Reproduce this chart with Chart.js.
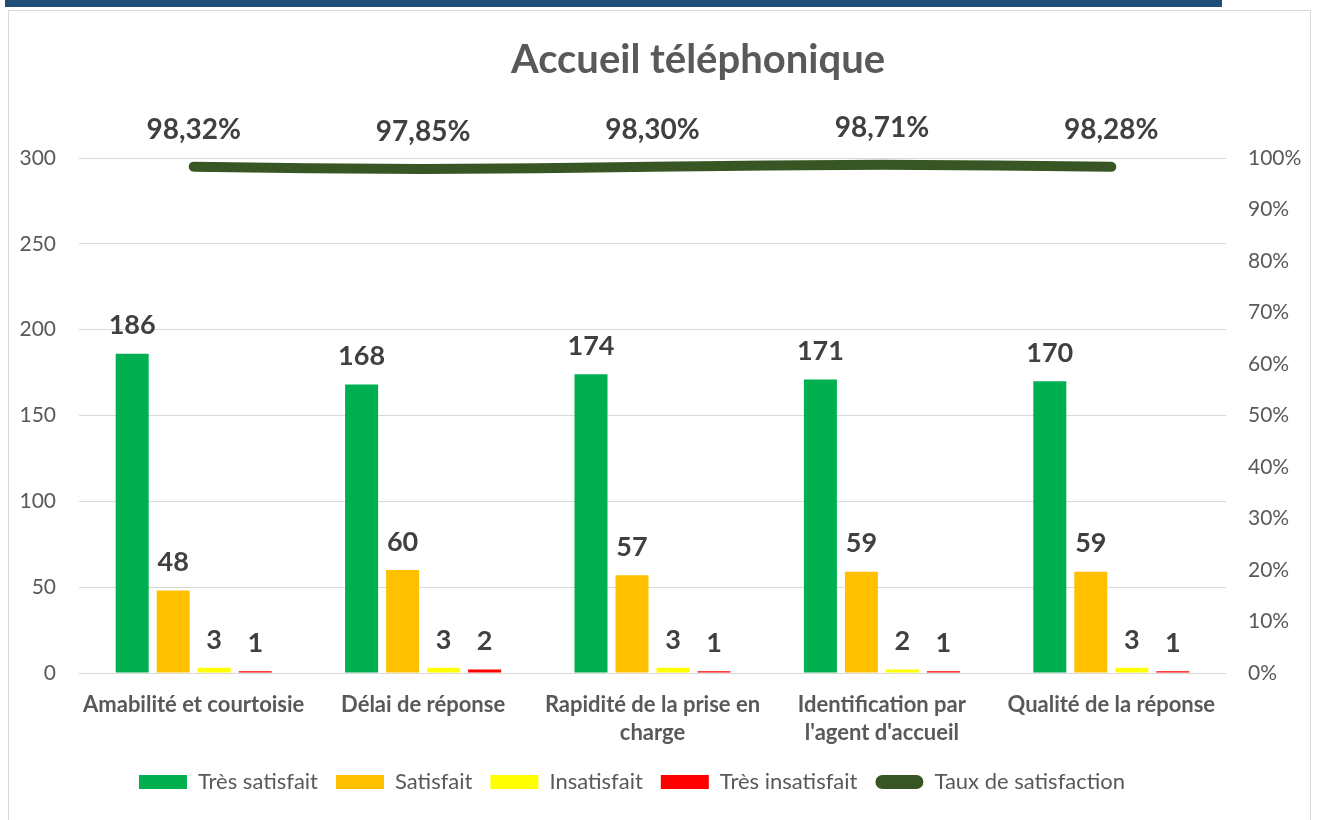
<!DOCTYPE html>
<html>
<head>
<meta charset="utf-8">
<script src="https://cdn.jsdelivr.net/npm/chart.js@4.4.1/dist/chart.umd.min.js"></script>
<style>
  body { margin: 0; background: #fff; overflow: hidden; }
  #topbar { position: absolute; left: 5px; top: 0; width: 1217px; height: 7px; background: #1f4e79; }
  #frame { position: absolute; left: 8px; top: 10px; width: 1301px; height: 820px; border: 1px solid #d9d9d9; }
  #wrap { position: absolute; left: -54px; top: 0; width: 1372px; height: 820px; }
</style>
</head>
<body>
<div id="topbar"></div>
<div id="frame"></div>
<div id="wrap"><canvas id="chart" width="1372" height="820"></canvas></div>
<script>
const categories = [
  'Amabilité et courtoisie',
  'Délai de réponse',
  ['Rapidité de la prise en', 'charge'],
  ['Identification par', "l'agent d'accueil"],
  'Qualité de la réponse'
];
const tresSatisfait = [186, 168, 174, 171, 170];
const satisfait = [48, 60, 57, 59, 59];
const insatisfait = [3, 3, 3, 2, 3];
const tresInsatisfait = [1, 2, 1, 1, 1];
const tauxSatisfaction = [0.9832, 0.9785, 0.9830, 0.9871, 0.9828];

const textGrey = '#595959';
const labelGrey = '#404040';
const font = 'Lato';
const shift = 54; // canvas sits 54px left of the page so the legend centres like the original

const pct = v => (v * 100).toFixed(2).replace('.', ',') + '%';

// draws the title and the value labels
const labelsPlugin = {
  id: 'labels',
  afterDatasetsDraw(chart) {
    const ctx = chart.ctx;
    ctx.save();
    ctx.fillStyle = labelGrey;
    ctx.textAlign = 'center';
    ctx.textBaseline = 'middle';
    chart.data.datasets.forEach((ds, i) => {
      const meta = chart.getDatasetMeta(i);
      meta.data.forEach((el, j) => {
        if (ds.type === 'line') {
          ctx.font = `bold 28px ${font}`;
          ctx.fillText(pct(ds.data[j]), el.x, el.y - 37);
        } else {
          ctx.font = `bold 27px ${font}`;
          ctx.fillText(ds.data[j], el.x, el.y - 28);
        }
      });
    });
    ctx.fillStyle = textGrey;
    ctx.font = `bold 40px ${font}`;
    ctx.fillText('Accueil téléphonique', 698 + shift, 60);
    ctx.restore();
  }
};

const ctx = document.getElementById('chart').getContext('2d');
new Chart(ctx, {
  type: 'bar',
  data: {
    labels: categories,
    datasets: [
      { type: 'line', label: 'Taux de satisfaction', data: tauxSatisfaction, yAxisID: 'y1',
        borderColor: '#375623', backgroundColor: '#375623', borderWidth: 10,
        borderCapStyle: 'round', borderJoinStyle: 'round', pointRadius: 0, tension: 0.3, order: 0 },
      { label: 'Très satisfait', data: tresSatisfait, backgroundColor: '#00b050', order: 1 },
      { label: 'Satisfait', data: satisfait, backgroundColor: '#ffc000', order: 1 },
      { label: 'Insatisfait', data: insatisfait, backgroundColor: '#ffff00', order: 1 },
      { label: 'Très insatisfait', data: tresInsatisfait, backgroundColor: '#ff0000', order: 1 }
    ]
  },
  options: {
    responsive: false,
    animation: false,
    categoryPercentage: 0.715,
    barPercentage: 0.805,
    layout: { padding: { top: 158, left: 0, right: 0, bottom: 17 } },
    plugins: {
      title: { display: false },
      tooltip: { enabled: false },
      legend: {
        position: 'bottom',
        labels: {
          color: textGrey,
          font: { family: font, size: 22 },
          boxWidth: 48,
          boxHeight: 14,
          padding: 18,
          useBorderRadius: true,
          generateLabels(chart) {
            const order = [1, 2, 3, 4, 0];
            return order.map(i => {
              const ds = chart.data.datasets[i];
              return {
                text: ds.label,
                fillStyle: ds.backgroundColor,
                strokeStyle: ds.backgroundColor,
                lineWidth: 0,
                borderRadius: ds.type === 'line' ? 7 : 0,
                fontColor: textGrey,
                datasetIndex: i,
                hidden: false
              };
            });
          }
        }
      }
    },
    scales: {
      x: {
        grid: { display: false, drawTicks: false },
        border: { display: false },
        ticks: { color: textGrey, font: { family: font, size: 22, weight: 'bold', lineHeight: 1.27 }, padding: 18, maxRotation: 0, autoSkip: false },
        afterFit(scale) { scale.height = 80; }
      },
      y: {
        position: 'left',
        min: 0, max: 300,
        grid: { color: '#d9d9d9', drawTicks: false },
        border: { display: false },
        ticks: { stepSize: 50, color: textGrey, font: { family: font, size: 21 }, padding: 23 },
        afterFit(scale) { scale.width = 79 + shift; }
      },
      y1: {
        position: 'right',
        min: 0, max: 1,
        grid: { display: false, drawTicks: false },
        border: { display: false },
        ticks: { stepSize: 0.1, color: textGrey, font: { family: font, size: 21 }, padding: 22,
          callback: v => Math.round(v * 100) + '%' },
        afterFit(scale) { scale.width = 92; }
      }
    }
  },
  plugins: [labelsPlugin]
});
</script>
</body>
</html>
